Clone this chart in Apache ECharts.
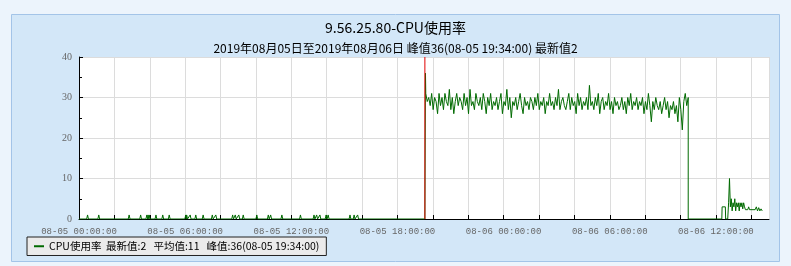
<!DOCTYPE html>
<html><head><meta charset="utf-8">
<script src="https://cdn.jsdelivr.net/npm/echarts@6/dist/echarts.min.js"></script>
<style>html,body{margin:0;padding:0;background:#ecf4fc;}#c{width:791px;height:266px;}</style>
</head><body><div id="c"></div>
<script>
// x values are minutes since 2019-08-05 00:00:00
const titleText = '9.56.25.80-CPU使用率';
const subText = '2019年08月05日至2019年08月06日 峰值36(08-05 19:34:00) 最新值2';
const seriesName = 'CPU使用率';
const statLatest = 2, statAvg = 11, statPeak = 36, statPeakTime = '08-05 19:34:00';
const peakMinute = 1174;
const xMin = 0, xMax = 2340, yMin = 0, yMax = 40;
// early period: baseline 0 with small spikes of 1 at these minutes
const spikeMinutes = [29,67,170,209,230,234,238,261,284,306,362,365,377,396,421,452,464,521,530,542,557,603,642,650,688,751,797,806,817,838,845,919,933,945];
const spikeValue = 1;
// high period, every 5 minutes starting at minute 1175
const highStart = 1175, highStep = 5;
const highValues = [
31,29,30,28,31,27,30,29,26,31,28,30,
27,31,29,28,32,27,30,26,29,31,28,30,
29,27,31,28,30,26,32,28,29,27,31,29,
28,30,27,31,29,26,30,28,31,27,29,28,
30,27,29,31,26,29,28,32,27,30,25,29,
28,30,27,29,31,28,26,30,28,29,27,30,
29,27,30,28,31,27,29,28,30,26,29,28,
31,28,29,27,30,28,32,27,29,30,28,27,
29,31,27,30,28,29,26,31,28,30,27,29,
28,30,27,33,28,29,27,30,28,31,26,29,
30,27,29,28,31,27,29,26,30,28,29,27,
28,30,27,29,26,30,28,31,27,29,28,30,
27,29,28,30,26,29,27,31,28,24,29,27,
30,28,27,29,26,28,30,27,29,25,28,27,
29,26,28,24,30,27,22,29,31,28,30];
// tail period
const tailMinutes = [2066,2180,2181,2192,2193,2200,2203,2206,2209,2212,2215,2218,2221,2224,2227,2230,2233,2236,2239,2242,2245,2248,2251,2254,2257,2260,2268,2271,2274,2293,2297,2301,2305,2309,2313,2317];
const tailValues  = [0,   0,   3,   3,   0,   0,   4,   10,  3,   5,   2,   4,   3,   5,   2,   4,   3,   4,   2,   4,   3,   4,   2.5, 4,   3,   2.3, 2.3, 3,   2.3, 2.3, 3,   2,   2.8, 2,   2.5, 2];

const data = [[0,0]];
spikeMinutes.forEach(t => { data.push([t-3,0],[t,spikeValue],[t+3,0]); });
data.push([peakMinute-1,0],[peakMinute+1,statPeak]);
highValues.forEach((v,i) => data.push([highStart + 1 + i*highStep, v]));
tailMinutes.forEach((t,i) => data.push([t, tailValues[i]]));

function pad(n){return (n<10?'0':'')+n;}
function fmtX(v){
  if (v % 360 !== 0) return '';
  const day = 5 + Math.floor(v/1440);
  const m = v % 1440;
  return '08-' + pad(day) + ' ' + pad(Math.floor(m/60)) + ':' + pad(m%60) + ':00';
}

const chart = echarts.init(document.getElementById('c'), null, {renderer:'canvas'});
chart.setOption({
  animation:false,
  backgroundColor:'#ecf4fc',
  graphic:[{type:'rect', z:-10, shape:{x:11.5,y:14.5,width:768,height:247}, style:{fill:'#d3e7f8', stroke:'#a3c4e8', lineWidth:1}}],
  title:[
    {text:titleText, left:'center', top:16, textStyle:{fontFamily:'Noto Sans CJK SC', fontSize:14, fontWeight:'normal', color:'#000'}},
    {text:subText, left:'center', top:37, textStyle:{fontFamily:'Noto Sans CJK SC', fontSize:12, fontWeight:'normal', color:'#000'}}
  ],
  legend:{
    data:[seriesName],
    left:27, top:237, orient:'horizontal',
    backgroundColor:'#ebebeb', borderColor:'#222', borderWidth:1, borderRadius:0,
    padding:[4,7,4,7], itemWidth:10, itemHeight:2, icon:'rect',
    textStyle:{fontFamily:'Noto Sans CJK SC', fontSize:10.5, color:'#000'},
    formatter: n => n + '  最新值:' + statLatest + '   平均值:' + statAvg + '   峰值:' + statPeak + '(' + statPeakTime + ')'
  },
  grid:{left:79, right:22, top:57, bottom:47, show:true, backgroundColor:'#fff', borderWidth:0, containLabel:false},
  xAxis:{
    type:'value', min:xMin, max:xMax, interval:120,
    axisLine:{show:true, onZero:false, lineStyle:{color:'#000', width:1}},
    axisTick:{show:true, inside:true, length:4, lineStyle:{color:'#000'}},
    splitLine:{show:true, lineStyle:{color:'#dcdcdc', width:1}},
    axisLabel:{formatter:fmtX, color:'#666', fontFamily:'Liberation Mono', fontSize:9, margin:8, showMaxLabel:false}
  },
  yAxis:{
    type:'value', min:yMin, max:yMax, interval:10,
    axisLine:{show:true, lineStyle:{color:'#000', width:1}},
    axisTick:{show:true, inside:true, length:4, lineStyle:{color:'#000'}},
    minorTick:{show:true, splitNumber:2, length:3, lineStyle:{color:'#000'}},
    splitLine:{show:true, lineStyle:{color:'#dcdcdc', width:1}},
    axisLabel:{color:'#666', fontFamily:'Liberation Serif', fontSize:10, margin:7}
  },
  series:[{
    name:seriesName, type:'line', data:data, showSymbol:false, symbol:'none', z:2,
    lineStyle:{color:'#006a00', width:1}, itemStyle:{color:'#006a00'}
  },{
    name:'peak', type:'line', data:[[peakMinute - 1, yMin],[peakMinute - 1, yMax]], z:5, silent:true,
    showSymbol:false, symbol:'none',
    lineStyle:{color:'#e00000', width:1}, itemStyle:{color:'#e00000'}
  }]
});
</script></body></html>
